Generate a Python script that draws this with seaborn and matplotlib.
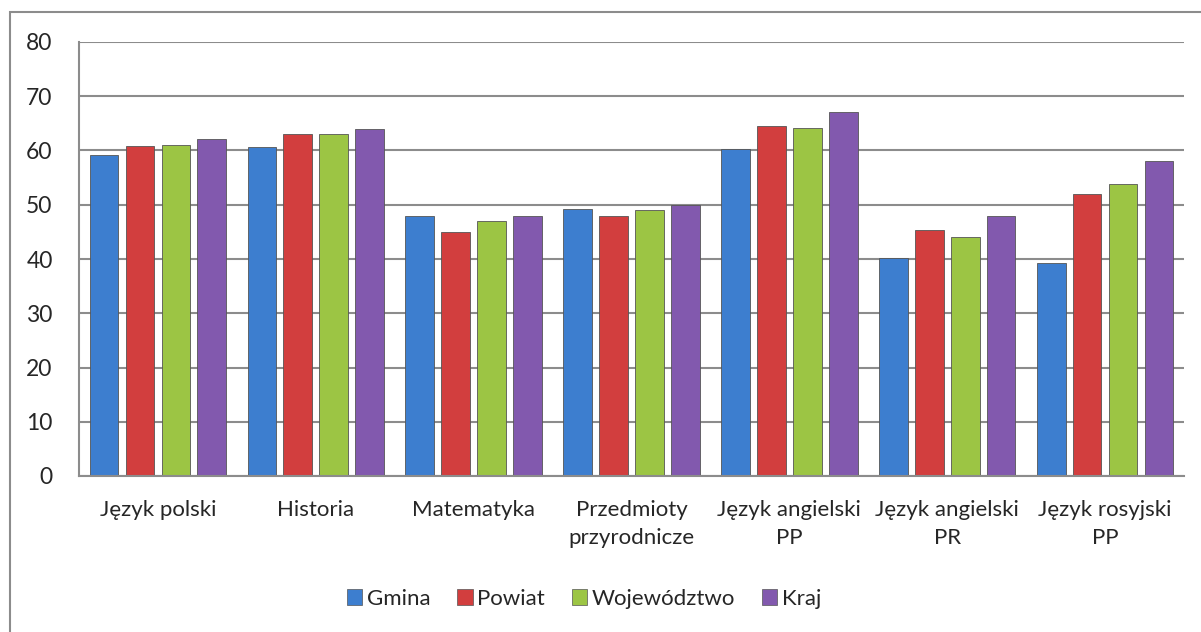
import matplotlib
matplotlib.use("Agg")
import matplotlib.pyplot as plt
import seaborn as sns
import pandas as pd
from matplotlib.patches import Rectangle, Patch

# Data
subjects = ["Język polski", "Historia", "Matematyka", "Przedmioty\nprzyrodnicze",
            "Język angielski\nPP", "Język angielski\nPR", "Język rosyjski\nPP"]
levels = ["Gmina", "Powiat", "Województwo", "Kraj"]
gmina = [59.2, 60.7, 47.9, 49.3, 60.3, 40.2, 39.3]
powiat = [60.8, 63.0, 44.9, 47.9, 64.5, 45.3, 52.0]
wojewodztwo = [61.0, 63.0, 47.0, 49.0, 64.1, 44.0, 53.9]
kraj = [62.1, 64.0, 48.0, 50.0, 67.1, 48.0, 58.1]
colors = ["#3D7ECF", "#D23E3E", "#9CC544", "#8259AE"]

rows = []
for level, vals in zip(levels, [gmina, powiat, wojewodztwo, kraj]):
    for s, v in zip(subjects, vals):
        rows.append({"subject": s, "level": level, "value": v})
df = pd.DataFrame(rows)

sns.set_style("white")
plt.rcParams["font.family"] = ["Lato", "DejaVu Sans"]

fig = plt.figure(figsize=(12.01, 6.32), dpi=100)
ax = fig.add_axes([79 / 1201, 156 / 632, 1105 / 1201, 434 / 632])

sns.barplot(data=df, x="subject", y="value", hue="level", hue_order=levels,
            order=subjects, palette=colors, saturation=1, width=0.91, gap=0.2,
            ax=ax, legend=False, edgecolor="#555555", linewidth=0.6)

ax.set_ylim(0, 80)
ax.set_yticks(range(0, 81, 10))
ax.set_xlim(-0.5, 6.5)
ax.yaxis.grid(True, color="#8c8c8c", linewidth=1.5)
ax.set_axisbelow(True)
for side in ["top", "right"]:
    ax.spines[side].set_visible(False)
for side in ["left", "bottom"]:
    ax.spines[side].set_color("#8c8c8c")
    ax.spines[side].set_linewidth(1.5)
ax.set_xlabel("")
ax.set_ylabel("")
ax.tick_params(axis="y", length=0, pad=19, labelsize=16.5)
ax.tick_params(axis="x", length=0, pad=17, labelsize=16)
for lbl in ax.get_xticklabels():
    lbl.set_linespacing(1.5)

handles = [Patch(facecolor=c, edgecolor="#555555", linewidth=0.5) for c in colors]
fig.legend(handles, levels, loc="center", bbox_to_anchor=(584 / 1201, 1 - 599 / 632),
           ncol=4, frameon=False, fontsize=16, handlelength=0.7, handleheight=0.7,
           handletextpad=0.2, columnspacing=1.2)

fig.patches.append(Rectangle((10 / 1201, -0.1), 1.2, 1.1 - 12 / 632, fill=False,
                             edgecolor="#8c8c8c", linewidth=1.5,
                             transform=fig.transFigure, figure=fig))

fig.savefig("out.png", dpi=100)
